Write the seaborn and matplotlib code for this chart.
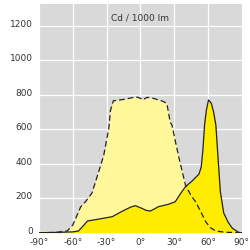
import matplotlib
matplotlib.use("Agg")
import matplotlib.pyplot as plt
import matplotlib.transforms as mtransforms
import seaborn as sns
import pandas as pd

# C0-C180 plane (dashed, light yellow)
dashed_deg = [-90, -75, -65, -60, -53, -49, -43, -37, -32.5, -28, -26.5, -24, -20, -13, -8, -4, 0, 2, 6, 11, 16, 20, 23.5, 26.5, 28, 34, 40, 45, 49, 53, 58, 62, 67, 75, 90]
dashed_val = [0, 2, 10, 45, 150, 178, 230, 354, 450, 607, 711, 765, 768, 775, 782, 788, 780, 770, 785, 780, 770, 762, 750, 640, 625, 441, 277, 215, 180, 130, 64, 30, 10, 3, 0]

# C90-C270 plane (solid, yellow)
solid_deg = [-90, -75, -60, -55, -50, -47, -38, -25, -18, -13, -8, -4.5, 1.5, 5, 9, 13, 16, 25, 31, 36, 40, 46, 52, 54, 55.5, 57, 58.6, 60.5, 63, 65, 67, 69, 71, 74, 78, 81.5, 87, 90]
solid_val = [0, 2, 5, 10, 45, 68, 78, 93, 118, 135, 150, 157, 141, 130, 126, 140, 151, 165, 180, 230, 267, 300, 340, 380, 480, 625, 711, 770, 750, 700, 625, 430, 238, 114, 60, 27, 3, 0]

x_ticks = [-90, -60, -30, 0, 30, 60, 90]
x_labels = ["-90°", "-60°", "-30°", "0°", "30°", "60°", "90°"]
y_ticks = [0, 200, 400, 600, 800, 1000, 1200]
unit_label = "Cd / 1000 lm"

sns.set_theme(style="darkgrid", rc={
    "axes.facecolor": "#d9d9d9",
    "grid.color": "white",
    "grid.linewidth": 0.9,
})
plt.rcParams["font.family"] = ["DejaVu Sans"]

fig = plt.figure(figsize=(2.5, 2.5), dpi=100)
ax = fig.add_axes([0.156, 0.069, 0.811, 0.915])

df_d = pd.DataFrame({"deg": dashed_deg, "val": dashed_val})
df_s = pd.DataFrame({"deg": solid_deg, "val": solid_val})

ax.fill_between(df_d["deg"], df_d["val"], color="#fff79a", lw=0, zorder=2)
ax.fill_between(df_s["deg"], df_s["val"], color="#ffed00", lw=0, zorder=3)
sns.lineplot(data=df_s, x="deg", y="val", ax=ax, color="#222222", lw=0.9, zorder=4, sort=False)
sns.lineplot(data=df_d, x="deg", y="val", ax=ax, color="#222222", lw=0.9, zorder=5, sort=False,
             dashes=False, linestyle=(0, (4.5, 2.5)))

ax.set_xlim(-90, 90)
ax.set_ylim(0, 1326)
ax.set_xticks(x_ticks)
ax.set_xticklabels(x_labels)
ax.set_yticks(y_ticks)
ax.set_xlabel("")
ax.set_ylabel("")
ax.tick_params(axis="both", length=0, labelsize=6.5, colors="#333333")
ax.tick_params(axis="y", pad=4.5)
ax.tick_params(axis="x", pad=4)
shift = mtransforms.ScaledTranslation(0, 2.5 / 100, fig.dpi_scale_trans)
for lbl in ax.get_yticklabels():
    lbl.set_transform(lbl.get_transform() + shift)
for s in ax.spines.values():
    s.set_visible(False)
ax.set_axisbelow(True)

ax.text(0, 1245, unit_label, ha="center", va="center", fontsize=6.5, color="#333333", zorder=6)

fig.savefig("out.png", dpi=100)
